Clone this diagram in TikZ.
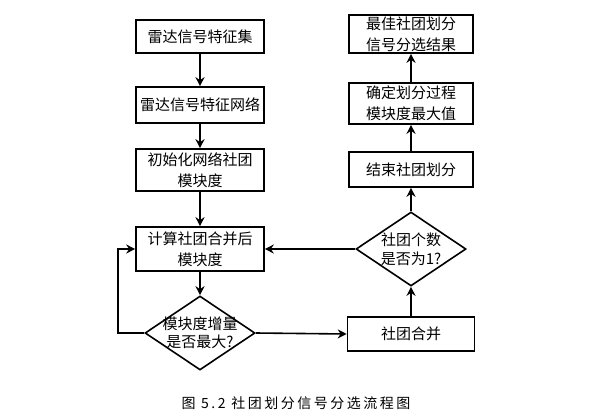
\documentclass[tikz,border=0pt]{standalone}
\usepackage{fontspec}
\usepackage{tikz}
\usetikzlibrary{shapes.geometric,arrows.meta}
\newfontfamily\cjk{Noto Sans CJK SC}
\newfontfamily\capfont[LetterSpace=18]{Noto Sans CJK SC}

\begin{document}
\begin{tikzpicture}[x=1pt,y=-1pt]
\tikzstyle{box}=[draw, line width=1.6pt, inner sep=0pt, align=center,
  font=\cjk\fontsize{15}{21}\selectfont]
\tikzstyle{dia}=[draw, diamond, line width=1.6pt, inner sep=0pt,
  minimum width=110pt, minimum height=74pt]
\tikzstyle{arr}=[line width=1.6pt, -{Stealth[length=9pt,width=9pt]}]
\useasboundingbox (0,0) rectangle (607,415);
% left column
\node[box, minimum width=128pt, minimum height=33pt] (feat) at (200,36.5) {雷达信号特征集};
\node[box, minimum width=128pt, minimum height=36pt] (net) at (200,105) {雷达信号特征网络};
\node[box, minimum width=128pt, minimum height=42pt] (init) at (200,170) {初始化网络社团\\模块度};
\node[box, minimum width=128pt, minimum height=44pt] (calc) at (200,249) {计算社团合并后\\模块度};
\node[dia, label={[align=center, font=\cjk\fontsize{15}{18}\selectfont]center:模块度增量\\是否最大?}] (inc) at (200,333) {};
% right column
\node[box, minimum width=127pt, minimum height=34pt] (merge) at (411,334) {社团合并};
\node[dia, label={[align=center, font=\cjk\fontsize{15}{19}\selectfont]center:社团个数\\是否为1?}] (one) at (411,249) {};
\node[box, minimum width=124pt, minimum height=35pt] (stop) at (411,169.5) {结束社团划分};
\node[box, minimum width=124pt, minimum height=41pt] (max) at (411,103.5) {确定划分过程\\模块度最大值};
\node[box, minimum width=124pt, minimum height=38pt] (best) at (411,34) {最佳社团划分\\信号分选结果};
% caption
\node[font=\capfont\fontsize{14}{16}\selectfont] (cap) at (296,403) {图 5.2 社团划分信号分选流程图};

\draw[arr] (feat) -- (net);
\draw[arr] (net) -- (init);
\draw[arr] (init) -- (calc);
\draw[arr] (calc) -- (inc);
\draw[arr] (inc.west) -- ++(-26,0) |- (calc.west);
\draw[arr] (inc.east) -- (merge.west);
\draw[arr] (merge) -- (one);
\draw[arr] (one.west) -- (calc.east);
\draw[arr] (one) -- (stop);
\draw[arr] (stop) -- (max);
\draw[arr] (max) -- (best);
\end{tikzpicture}
\end{document}
